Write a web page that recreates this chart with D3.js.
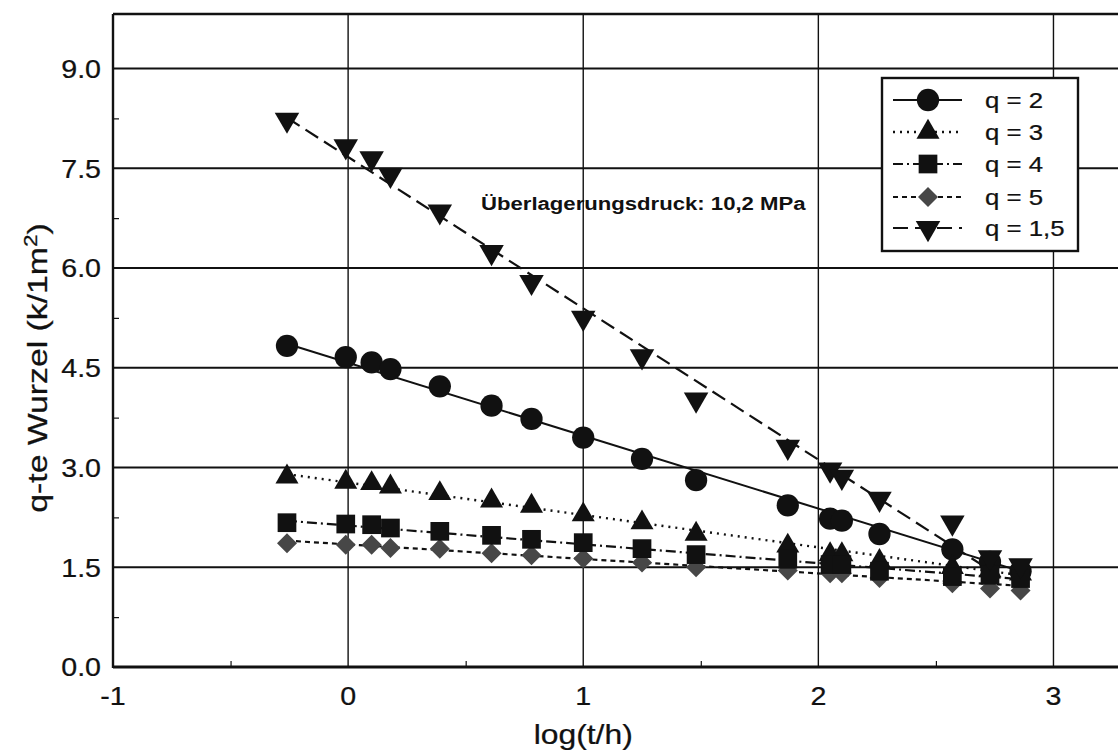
<!DOCTYPE html>
<html>
<head>
<meta charset="utf-8">
<script src="https://cdn.jsdelivr.net/npm/d3@7"></script>
<style>
  html, body { margin: 0; padding: 0; background: #fff; }
  svg { display: block; }
  text { font-family: "Liberation Sans", Arial, Helvetica, sans-serif; fill: #111; }
  text.heavy { stroke: #111; stroke-width: 0.25px; }
</style>
</head>
<body>
<svg id="chart" width="1118" height="751"></svg>
<script>
// ---------- data ----------
const logT = [-0.26, -0.01, 0.10, 0.18, 0.39, 0.61, 0.78, 1.00, 1.25, 1.48, 1.87, 2.05, 2.10, 2.26, 2.57, 2.73, 2.86];
const q2   = [4.83, 4.66, 4.58, 4.48, 4.22, 3.93, 3.73, 3.45, 3.13, 2.81, 2.43, 2.23, 2.20, 2.00, 1.77, 1.58, 1.44];
const q3   = [2.86, 2.78, 2.76, 2.71, 2.61, 2.50, 2.42, 2.29, 2.17, 2.00, 1.82, 1.69, 1.69, 1.59, 1.50, 1.45, 1.40];
const q4   = [2.17, 2.15, 2.14, 2.09, 2.04, 1.98, 1.92, 1.87, 1.78, 1.69, 1.62, 1.54, 1.54, 1.44, 1.36, 1.38, 1.33];
const q5   = [1.86, 1.84, 1.84, 1.79, 1.78, 1.71, 1.68, 1.63, 1.57, 1.50, 1.45, 1.41, 1.41, 1.34, 1.26, 1.18, 1.15];
const q15  = [8.23, 7.83, 7.65, 7.40, 6.85, 6.24, 5.79, 5.25, 4.67, 4.02, 3.31, 2.97, 2.86, 2.53, 2.17, 1.65, 1.53];

// regression lines drawn in the figure (start / end)
const fitX    = [-0.26, 2.86];
const fitX15  = [-0.26, 2.72];
const fitQ2   = [4.86, 1.44];
const fitQ3   = [2.90, 1.38];
const fitQ4   = [2.20, 1.32];
const fitQ5   = [1.90, 1.22];
const fitQ15  = [8.26, 1.48];

const seriesNames = ["q = 2", "q = 3", "q = 4", "q = 5", "q = 1,5"];
const xTicks = [-1, 0, 1, 2, 3];
const xMinorTicks = [-0.5, 0.5, 1.5, 2.5];
const yTicks = [0, 1.5, 3.0, 4.5, 6.0, 7.5, 9.0];
const yMinorTicks = [0.75, 2.25, 3.75, 5.25, 6.75, 8.25];
const xTitle = "log(t/h)";
const yTitle = "q-te Wurzel (k/1m";
const annotation = "Überlagerungsdruck: 10,2 MPa";

// ---------- setup ----------
const svg = d3.select("#chart");
const X0 = 113, X1 = 1124, Y0 = 667, YTOP = 14;
const x = d3.scaleLinear().domain([-1, 3.3]).range([X0, X1]);
const y = d3.scaleLinear().domain([0, 9.8]).range([Y0, Y0 - 9.8 * 66.5]);

function stretch(sel, f) {
  sel.each(function () {
    const t = d3.select(this);
    const tx = +t.attr("x") || 0, ty = +t.attr("y") || 0;
    t.attr("transform", `translate(${tx},${ty}) scale(${f},1) translate(${-tx},${-ty})`);
  });
}

// grid
const grid = svg.append("g");
grid.selectAll("line.h").data(yTicks.filter(d => d > 0)).join("line")
  .attr("x1", X0).attr("x2", X1).attr("y1", d => y(d)).attr("y2", d => y(d))
  .attr("stroke", "#111").attr("stroke-width", 2);
grid.selectAll("line.v").data(xTicks.filter(d => d > -1)).join("line")
  .attr("x1", d => x(d)).attr("x2", d => x(d)).attr("y1", YTOP).attr("y2", Y0)
  .attr("stroke", "#111").attr("stroke-width", 1.4);

// axes (minor ticks inward)
const xAxis = d3.axisBottom(x).tickValues(xMinorTicks).tickSize(-6).tickFormat("");
svg.append("g").attr("transform", `translate(0,${Y0})`).call(xAxis)
  .call(g => g.select(".domain").remove())
  .call(g => g.selectAll("line").attr("stroke", "#111").attr("stroke-width", 1.2));
const yAxis = d3.axisLeft(y).tickValues(yMinorTicks).tickSize(-6).tickFormat("");
svg.append("g").attr("transform", `translate(${X0},0)`).call(yAxis)
  .call(g => g.select(".domain").remove())
  .call(g => g.selectAll("line").attr("stroke", "#111").attr("stroke-width", 1.2));

// frame
svg.append("line").attr("x1", X0).attr("x2", X1).attr("y1", YTOP).attr("y2", YTOP).attr("stroke", "#111").attr("stroke-width", 2.4);
svg.append("line").attr("x1", X0).attr("x2", X1).attr("y1", Y0).attr("y2", Y0).attr("stroke", "#111").attr("stroke-width", 3);
svg.append("line").attr("x1", X0).attr("x2", X0).attr("y1", YTOP).attr("y2", Y0 + 1).attr("stroke", "#111").attr("stroke-width", 2.4);

// tick labels
const yl = svg.append("g").selectAll("text").data(yTicks).join("text")
  .attr("class", "heavy")
  .attr("x", 101).attr("y", d => y(d)).attr("dy", "0.36em")
  .attr("text-anchor", "end").attr("font-size", 26)
  .text(d => d.toFixed(1));
stretch(yl, 1.1);
const xl = svg.append("g").selectAll("text").data(xTicks).join("text")
  .attr("class", "heavy")
  .attr("x", d => x(d)).attr("y", 705)
  .attr("text-anchor", "middle").attr("font-size", 26)
  .text(d => d);
stretch(xl, 1.1);

// axis titles
const xt = svg.append("text").attr("class", "heavy").attr("x", x(1)).attr("y", 744).attr("text-anchor", "middle")
  .attr("font-size", 27).text(xTitle);
stretch(xt, 1.18);
const ytG = svg.append("g").attr("transform", `translate(47,368) rotate(-90)`);
const yt = ytG.append("text").attr("class", "heavy").attr("x", 0).attr("y", 0).attr("text-anchor", "middle").attr("font-size", 27);
yt.append("tspan").text(yTitle);
yt.append("tspan").attr("dy", -10).attr("font-size", 18).text("2");
yt.append("tspan").attr("dy", 10).text(")");
stretch(yt, 1.25);

// annotation
const an = svg.append("text").attr("x", 481).attr("y", 210).attr("font-size", 18)
  .attr("font-weight", "bold").text(annotation);
stretch(an, 1.23);

// ---------- series ----------
const series = [
  { name: seriesNames[0], vals: q2,  fx: fitX,   fy: fitQ2,  dash: null,         sw: 2.0, sym: d3.symbolCircle,   size: 390, rot: 0,   fill: "#111" },
  { name: seriesNames[1], vals: q3,  fx: fitX,   fy: fitQ3,  dash: "2,5",        sw: 2.4, sym: d3.symbolTriangle, size: 230, rot: 0,   fill: "#111" },
  { name: seriesNames[2], vals: q4,  fx: fitX,   fy: fitQ4,  dash: "10,4,2,4",   sw: 2.2, sym: d3.symbolSquare,   size: 350, rot: 0,   fill: "#111" },
  { name: seriesNames[3], vals: q5,  fx: fitX,   fy: fitQ5,  dash: "5,4",        sw: 2.2, sym: d3.symbolSquare,   size: 200, rot: 45,  fill: "#474747" },
  { name: seriesNames[4], vals: q15, fx: fitX15, fy: fitQ15, dash: "15,7",       sw: 2.2, sym: d3.symbolTriangle, size: 260, rot: 180, fill: "#111" }
];

const lineGen = d3.line().x(d => x(d[0])).y(d => y(d[1]));
const plot = svg.append("g");
series.forEach(s => {
  plot.append("path")
    .attr("d", lineGen(s.fx.map((v, i) => [v, s.fy[i]])))
    .attr("fill", "none").attr("stroke", "#111").attr("stroke-width", s.sw)
    .attr("stroke-dasharray", s.dash);
});
// marker drawing order: q=2, q=5, q=3, q=4, q=1,5
[0, 3, 1, 2, 4].forEach(k => {
  const s = series[k];
  const sym = d3.symbol().type(s.sym).size(s.size);
  plot.append("g").selectAll("path").data(logT.map((t, i) => [t, s.vals[i]])).join("path")
    .attr("d", sym)
    .attr("transform", d => `translate(${x(d[0])},${y(d[1])}) rotate(${s.rot})`)
    .attr("fill", s.fill);
});

// ---------- legend ----------
const lg = svg.append("g");
lg.append("rect").attr("x", 882).attr("y", 78).attr("width", 196).attr("height", 173)
  .attr("fill", "#fff").attr("stroke", "#111").attr("stroke-width", 2.4);
const rowY = [100, 132, 164, 197, 228];
series.forEach((s, i) => {
  const ry = rowY[i];
  lg.append("line").attr("x1", 893).attr("x2", 962).attr("y1", ry).attr("y2", ry)
    .attr("stroke", "#111").attr("stroke-width", s.sw).attr("stroke-dasharray", s.dash);
  lg.append("path").attr("d", d3.symbol().type(s.sym).size(s.size)())
    .attr("transform", `translate(928,${ry}) rotate(${s.rot})`).attr("fill", s.fill);
  const t = lg.append("text").attr("class", "heavy").attr("x", 985).attr("y", ry).attr("dy", "0.36em")
    .attr("font-size", 23).text(s.name);
  stretch(t, 1.12);
});
</script>
</body>
</html>
